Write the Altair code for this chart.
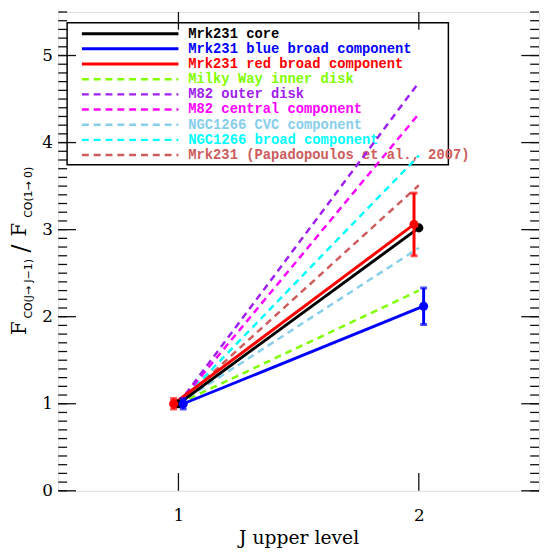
import altair as alt
import pandas as pd
import numpy as np

# ---------------- data ----------------
series_names = [
    "Mrk231 core",
    "Mrk231 blue broad component",
    "Mrk231 red broad component",
    "Milky Way inner disk",
    "M82 outer disk",
    "M82 central component",
    "NGC1266 CVC component",
    "NGC1266 broad component",
    "Mrk231 (Papadopoulos et al., 2007)",
]
series_colors = ["#000000", "#0000ff", "#ff0000", "#7fff00", "#a020f0",
                 "#ff00ff", "#87ceeb", "#00ffff", "#cd5c5c"]
series_style = ["solid", "solid", "solid", "dashed", "dashed",
                "dashed", "dashed", "dashed", "dashed"]
j_low_x = [1.00, 1.02, 0.98, 1.00, 1.00, 1.00, 1.00, 1.00, 1.00]
j_high_x = [2.00, 2.02, 1.98, 2.00, 2.00, 2.00, 2.00, 2.00, 2.00]
ratio_j1 = [1.00, 1.00, 1.00, 1.00, 1.00, 1.00, 1.00, 1.00, 1.00]
ratio_j2 = [3.02, 2.12, 3.06, 2.30, 4.69, 4.33, 2.79, 3.85, 3.51]
err_j1 = [0.00, 0.06, 0.06]
err_j2 = [0.00, 0.21, 0.36]

x_tick_values = [1, 2]
y_tick_values = [0, 1, 2, 3, 4, 5]

# ---------------- layout ----------------
W, H = 488, 486
X_DOM = [0.5, 2.5]
Y_DOM = [0.0, 5.5]


def px2x(p):
    return X_DOM[0] + p * (X_DOM[1] - X_DOM[0]) / W


def px2y(p):
    return Y_DOM[1] - p * (Y_DOM[1] - Y_DOM[0]) / H


xscale = alt.Scale(domain=X_DOM, nice=False, zero=False)
yscale = alt.Scale(domain=Y_DOM, nice=False, zero=False)
xaxis = alt.Axis(values=x_tick_values, ticks=False, domain=False, grid=False,
                 labelFont="DejaVu Serif", labelFontSize=17, labelColor="black",
                 labelPadding=17, title="J upper level", titleFont="DejaVu Serif",
                 titleFontSize=19, titleFontWeight="normal", titleColor="black",
                 titlePadding=5, format="d")
yaxis = alt.Axis(values=y_tick_values, ticks=False, domain=False, grid=False,
                 labelFont="DejaVu Serif", labelFontSize=17, labelColor="black",
                 labelPadding=6, title=None, format="d")


def X(field):
    return alt.X(field, type="quantitative", scale=xscale, axis=xaxis, title="J upper level")


def Y(field):
    return alt.Y(field, type="quantitative", scale=yscale, axis=yaxis, title=None)


layers = []

# ---------------- frame ticks ----------------
minor_vals = [round(v, 1) for v in np.arange(0, 5.55, 0.1)]
df_minor = pd.DataFrame({"v": minor_vals})
df_major = pd.DataFrame({"v": y_tick_values})
df_xt = pd.DataFrame({"v": x_tick_values})
tick_color = "#111111"
layers.append(alt.Chart(df_minor).mark_rule(color=tick_color, strokeWidth=1.3).encode(
    y=Y("v"), x=alt.value(0), x2=alt.value(9)))
layers.append(alt.Chart(df_minor).mark_rule(color=tick_color, strokeWidth=1.3).encode(
    y=Y("v"), x=alt.value(W - 9), x2=alt.value(W)))
layers.append(alt.Chart(df_major).mark_rule(color=tick_color, strokeWidth=1.3).encode(
    y=Y("v"), x=alt.value(0), x2=alt.value(18)))
layers.append(alt.Chart(df_major).mark_rule(color=tick_color, strokeWidth=1.3).encode(
    y=Y("v"), x=alt.value(W - 18), x2=alt.value(W)))
layers.append(alt.Chart(df_xt).mark_rule(color=tick_color, strokeWidth=1.3).encode(
    x=X("v"), y=alt.value(H - 18), y2=alt.value(H)))
layers.append(alt.Chart(df_xt).mark_rule(color=tick_color, strokeWidth=1.3).encode(
    x=X("v"), y=alt.value(0), y2=alt.value(18)))

# ---------------- legend ----------------
n = len(series_names)
row_px = [22 + 15.4 * i for i in range(n)]
df_leg = pd.DataFrame({
    "name": series_names,
    "style": series_style,
    "lx1": [px2x(24)] * n,
    "lx2": [px2x(122)] * n,
    "tx": [px2x(132)] * n,
    "ly": [px2y(p) for p in row_px],
})
color_scale = alt.Scale(domain=series_names, range=series_colors)
df_box = pd.DataFrame({"x1": [px2x(9)], "x2": [px2x(396)],
                       "y1": [px2y(11)], "y2": [px2y(155)]})
layers.append(alt.Chart(df_box).mark_rect(fillOpacity=0, stroke="black", strokeWidth=1.5).encode(
    x=X("x1"), x2="x2", y=Y("y1"), y2="y2"))
layers.append(alt.Chart(df_leg).mark_rule().encode(
    x=X("lx1"), x2="lx2", y=Y("ly"),
    color=alt.Color("name:N", scale=color_scale, legend=None),
    strokeDash=alt.StrokeDash("style:N", scale=alt.Scale(domain=["solid", "dashed"],
                                                         range=[[1, 0], [7, 5]]), legend=None),
    strokeWidth=alt.StrokeWidth("style:N", scale=alt.Scale(domain=["solid", "dashed"],
                                                           range=[3, 2.5]), legend=None),
))
layers.append(alt.Chart(df_leg).mark_text(align="left", baseline="middle",
                                          font="'Liberation Mono', 'Courier New', monospace",
                                          fontSize=14, fontWeight="bold").encode(
    x=X("tx"), y=Y("ly"), text="name:N",
    color=alt.Color("name:N", scale=color_scale, legend=None)))

# ---------------- data lines ----------------
rows = []
for i, nm in enumerate(series_names):
    rows.append({"series": nm, "j": j_low_x[i], "r": ratio_j1[i]})
    rows.append({"series": nm, "j": j_high_x[i], "r": ratio_j2[i]})
df_lines = pd.DataFrame(rows)

order = [3, 6, 8, 7, 5, 4, 1, 0, 2]
for i in order:
    sub = df_lines[df_lines["series"] == series_names[i]]
    if series_style[i] == "dashed":
        mk = alt.Chart(sub).mark_line(color=series_colors[i], strokeWidth=2.5, strokeDash=[7, 5])
    else:
        mk = alt.Chart(sub).mark_line(color=series_colors[i], strokeWidth=3)
    layers.append(mk.encode(x=X("j"), y=Y("r")))

# ---------------- points with error bars ----------------
prow = []
for i in [0, 1, 2]:
    prow.append({"series": series_names[i], "j": j_low_x[i], "r": ratio_j1[i],
                 "lo": ratio_j1[i] - err_j1[i], "hi": ratio_j1[i] + err_j1[i], "e": err_j1[i]})
    prow.append({"series": series_names[i], "j": j_high_x[i], "r": ratio_j2[i],
                 "lo": ratio_j2[i] - err_j2[i], "hi": ratio_j2[i] + err_j2[i], "e": err_j2[i]})
df_pts = pd.DataFrame(prow)

for i in [0, 1, 2]:
    sub = df_pts[df_pts["series"] == series_names[i]]
    sub_e = sub[sub["e"] > 0]
    c = series_colors[i]
    if len(sub_e):
        layers.append(alt.Chart(sub_e).mark_rule(color=c, strokeWidth=3).encode(
            x=X("j"), y=Y("lo"), y2="hi"))
        layers.append(alt.Chart(sub_e).mark_tick(color=c, orient="horizontal", size=7,
                                                 thickness=3).encode(x=X("j"), y=Y("lo")))
        layers.append(alt.Chart(sub_e).mark_tick(color=c, orient="horizontal", size=7,
                                                 thickness=3).encode(x=X("j"), y=Y("hi")))
    layers.append(alt.Chart(sub).mark_point(filled=True, color=c, opacity=1, size=85).encode(
        x=X("j"), y=Y("r")))

# ---------------- y-axis title with subscripts ----------------
title_pieces = [
    ("F", "DejaVu Serif", 20, -33, 321),
    ("CO(J\u2192 J\u22121)", "DejaVu Sans", 11, -27, 281),
    ("/", "DejaVu Serif", 24, -30, 240),
    ("F", "DejaVu Serif", 20, -33, 221),
    ("CO(1\u2192 0)", "DejaVu Sans", 11, -27, 183),
]
df_one = pd.DataFrame({"k": [0]})
for txt, fnt, fs, px, py in title_pieces:
    layers.append(alt.Chart(df_one).mark_text(text=txt, font=fnt, fontSize=fs, angle=270,
                                              align="center", baseline="alphabetic",
                                              color="black").encode(
        x=alt.value(px), y=alt.value(py)))

chart = alt.layer(*layers).properties(
    width=W, height=H,
    autosize=alt.AutoSizeParams(type="none"),
    padding={"left": 51, "top": 0, "right": 1, "bottom": 54},
).configure_view(stroke="black", strokeWidth=1.5).configure(background="white")

chart.save("out.html", embed_options={"renderer": "svg", "actions": False})
